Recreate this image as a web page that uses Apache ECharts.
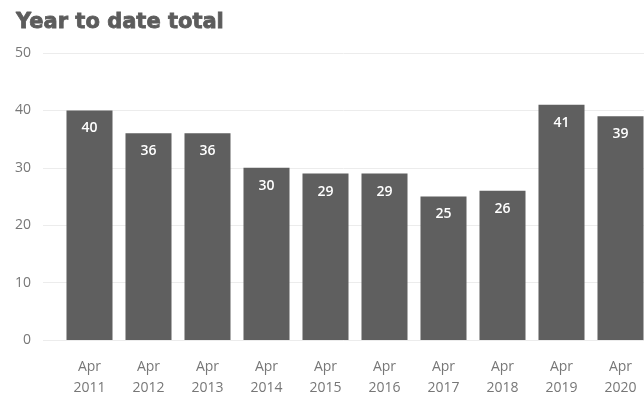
<!DOCTYPE html>
<html>
<head>
<meta charset="utf-8">
<script src="https://cdn.jsdelivr.net/npm/echarts@6/dist/echarts.min.js"></script>
<style>
  html, body { margin: 0; padding: 0; background: #fff; }
  #main { width: 644px; height: 394px; }
</style>
</head>
<body>
<div id="main"></div>
<script>
var years = ["Apr\n2011", "Apr\n2012", "Apr\n2013", "Apr\n2014", "Apr\n2015",
             "Apr\n2016", "Apr\n2017", "Apr\n2018", "Apr\n2019", "Apr\n2020"];
var totals = [40, 36, 36, 30, 29, 29, 25, 26, 41, 39];
var yTicks = { min: 0, max: 50, step: 10 };

var chart = echarts.init(document.getElementById("main"));
var option = {
  animation: false,
  title: {
    text: "Year to date total",
    left: 11,
    top: 7,
    textStyle: {
      color: "#5c5c5c",
      fontSize: 21,
      fontWeight: "bold",
      fontFamily: "DejaVu Sans",
      textBorderColor: "#5c5c5c",
      textBorderWidth: 0.8,
    },
  },
  grid: [
    // background grid: y labels and split lines
    { left: 43, right: 0, top: 53, bottom: 54, outerBoundsMode: "none" },
    // bars (runs a little past the right edge, like the original)
    { left: 60, width: 590, top: 53, bottom: 54, outerBoundsMode: "none" },
  ],
  xAxis: [
    { gridIndex: 0, type: "category", data: years, show: false },
    {
      gridIndex: 1,
      type: "category",
      data: years,
      axisLine: { show: false },
      axisTick: { show: false },
      axisLabel: {
        margin: 17,
        color: "#777",
        fontSize: 14,
        lineHeight: 21,
        fontFamily: "Open Sans",
      },
    },
  ],
  yAxis: [
    {
      gridIndex: 0,
      type: "value",
      min: yTicks.min,
      max: yTicks.max,
      interval: yTicks.step,
      axisLine: { show: false },
      axisTick: { show: false },
      axisLabel: { margin: 12, color: "#777", fontSize: 14, fontFamily: "Open Sans" },
      splitLine: { lineStyle: { color: "#ececec" } },
    },
    {
      gridIndex: 1,
      type: "value",
      min: yTicks.min,
      max: yTicks.max,
      interval: yTicks.step,
      show: false,
    },
  ],
  series: [
    {
      type: "bar",
      xAxisIndex: 1,
      yAxisIndex: 1,
      data: totals,
      barCategoryGap: "22%",
      itemStyle: { color: "#5f5f5f" },
      label: {
        show: true,
        position: "insideTop",
        distance: 11,
        color: "#fff",
        fontSize: 14,
        fontFamily: "Open Sans",
        fontWeight: 600,
      },
    },
  ],
};

option && chart.setOption(option);
</script>
</body>
</html>
